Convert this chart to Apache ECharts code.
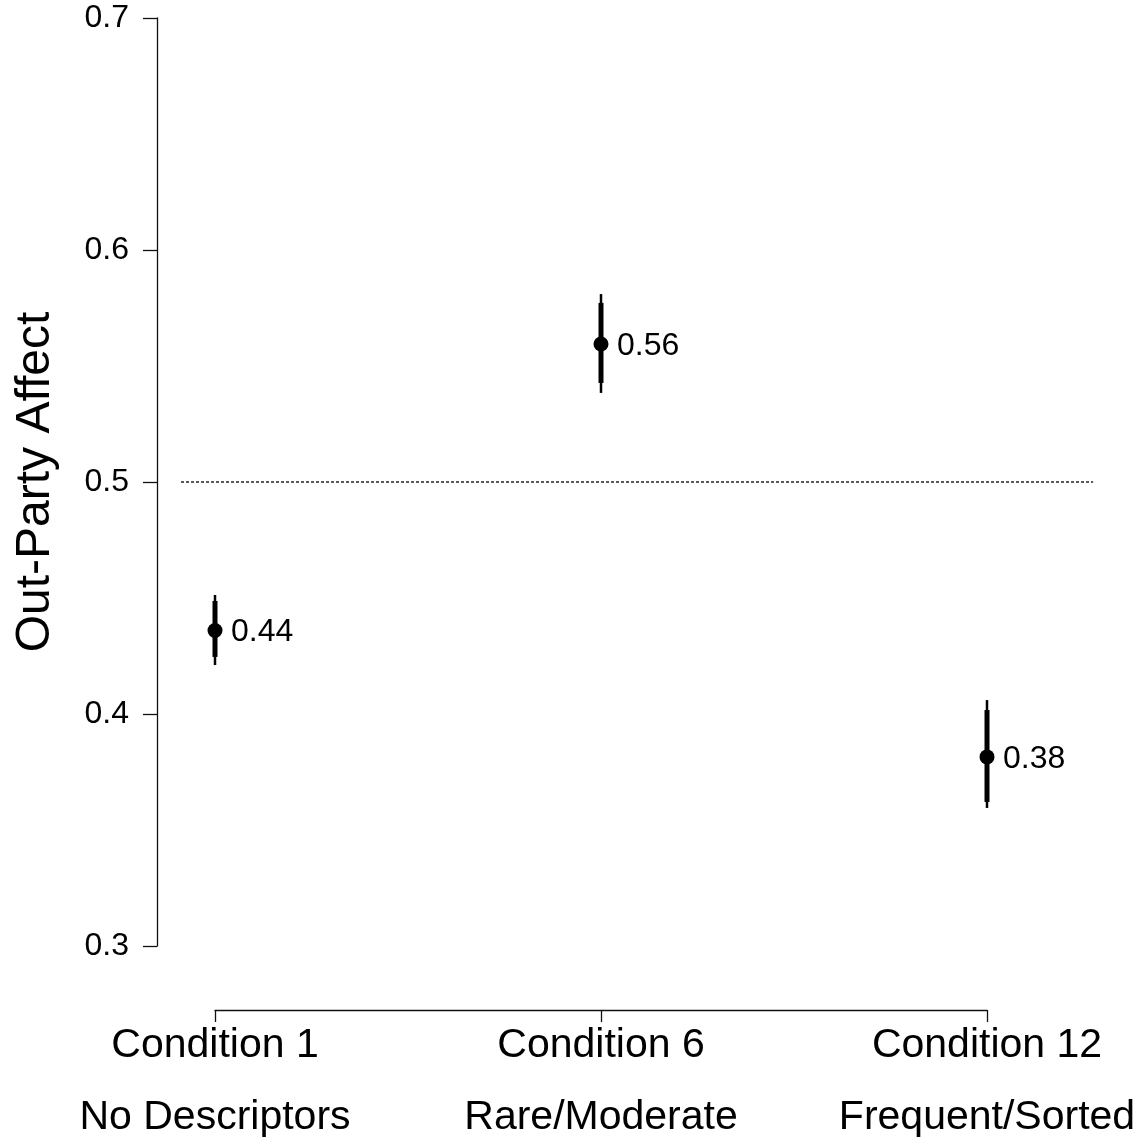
<!DOCTYPE html>
<html>
<head>
<meta charset="utf-8">
<script src="https://cdn.jsdelivr.net/npm/echarts@6/dist/echarts.min.js"></script>
<style>
html,body{margin:0;padding:0;background:#fff;}
#chart{width:1144px;height:1146px;}
</style>
</head>
<body>
<div id="chart"></div>
<script>
// ---- data ----
const categories = ['Condition 1', 'Condition 6', 'Condition 12'];
const descriptors = ['No Descriptors', 'Rare/Moderate', 'Frequent/Sorted'];
const xPositions = [1, 2, 3];
const means = [0.436, 0.5595, 0.3815];
const innerLower = [0.4246, 0.5427, 0.3621];
const innerUpper = [0.4487, 0.5772, 0.4017];
const outerLower = [0.4211, 0.5384, 0.3595];
const outerUpper = [0.4513, 0.5810, 0.4060];
const valueLabels = ['0.44', '0.56', '0.38'];
const yMin = 0.3, yMax = 0.7, yStep = 0.1;
const refValue = 0.5;
const refLineX = [0.912, 3.275];
const yTitle = 'Out-Party Affect';

const FONT = '"Liberation Sans", Arial, sans-serif';

const rows = xPositions.map((x, i) => [x, means[i], innerLower[i], innerUpper[i], outerLower[i], outerUpper[i]]);

const chart = echarts.init(document.getElementById('chart'), null, {renderer: 'canvas'});
chart.setOption({
  animation: false,
  backgroundColor: '#ffffff',
  grid: {left: 215, right: 157, top: 18, bottom: 200, containLabel: false, outerBoundsMode: 'none'},
  xAxis: {
    type: 'value', min: 1, max: 3, interval: 1,
    offset: 64,
    splitLine: {show: false},
    axisLine: {show: true, lineStyle: {color: '#111', width: 1.3}},
    axisTick: {show: true, length: 12, lineStyle: {color: '#111', width: 1.3}},
    axisLabel: {
      show: true, margin: 0, color: '#000', fontFamily: FONT, fontSize: 41, lineHeight: 72,
      formatter: v => { const i = xPositions.indexOf(v); return i >= 0 ? categories[i] + '\n' + descriptors[i] : ''; }
    }
  },
  yAxis: {
    type: 'value', min: yMin, max: yMax, interval: yStep,
    offset: 58,
    name: yTitle, nameLocation: 'middle', nameGap: 97, nameRotate: 90,
    nameTextStyle: {color: '#000', fontFamily: FONT, fontSize: 48},
    splitLine: {show: false},
    axisLine: {show: true, lineStyle: {color: '#111', width: 1.3}},
    axisTick: {show: true, length: 14, lineStyle: {color: '#111', width: 1.3}},
    axisLabel: {show: true, margin: 28, color: '#000', fontFamily: FONT, fontSize: 32,
      formatter: v => v.toFixed(1)}
  },
  series: [
    {
      type: 'custom',
      data: [[refValue]],
      clip: false, silent: true,
      renderItem: function (params, api) {
        const y = api.value(0);
        const a = api.coord([xPositions[0], y]);
        const b = api.coord([xPositions[xPositions.length - 1], y]);
        const perUnit = (b[0] - a[0]) / (xPositions[xPositions.length - 1] - xPositions[0]);
        const x1 = a[0] + (refLineX[0] - xPositions[0]) * perUnit;
        const x2 = a[0] + (refLineX[1] - xPositions[0]) * perUnit;
        return {type: 'line', shape: {x1: x1, y1: a[1], x2: x2, y2: a[1]},
          style: {stroke: '#222', lineWidth: 1.3, lineDash: [3, 2]}};
      }
    },
    {
      type: 'custom',
      data: rows,
      clip: false,
      renderItem: function (params, api) {
        const x = api.value(0);
        const c = api.coord([x, api.value(1)]);
        const il = api.coord([x, api.value(2)]);
        const iu = api.coord([x, api.value(3)]);
        const ol = api.coord([x, api.value(4)]);
        const ou = api.coord([x, api.value(5)]);
        return {
          type: 'group',
          children: [
            {type: 'line', shape: {x1: ol[0], y1: ol[1], x2: ou[0], y2: ou[1]}, style: {stroke: '#000', lineWidth: 2.5}},
            {type: 'line', shape: {x1: il[0], y1: il[1], x2: iu[0], y2: iu[1]}, style: {stroke: '#000', lineWidth: 5}},
            {type: 'circle', shape: {cx: c[0], cy: c[1], r: 7.5}, style: {fill: '#000'}},
            {type: 'text', x: c[0] + 16, y: c[1] + 2, style: {text: valueLabels[params.dataIndex], fill: '#000', font: '32px ' + FONT, textAlign: 'left', textVerticalAlign: 'middle'}}
          ]
        };
      }
    }
  ]
});
</script>
</body>
</html>
